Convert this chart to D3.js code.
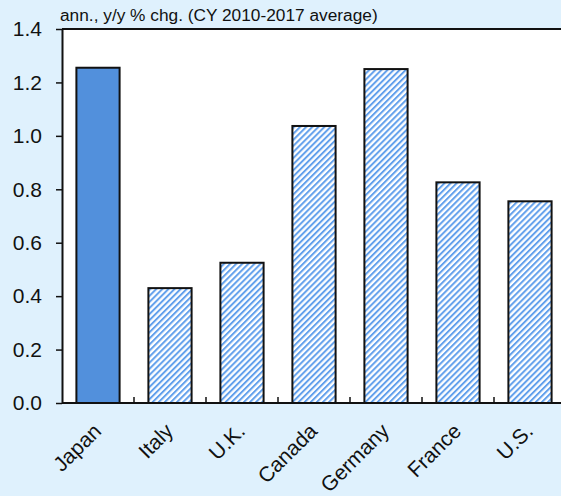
<!DOCTYPE html>
<html>
<head>
<meta charset=utf-8>
<style>
body {margin: 0; background: #dff1fd;}
svg {display: block; font-family: 'Liberation Sans', Arial, sans-serif;}
</style>
</head>
<body>
<svg id=chart width=561 height=496></svg>
<script src='https://cdn.jsdelivr.net/npm/d3@7/dist/d3.min.js'></script>
<script>
//data
var countries = ['Japan', 'Italy', 'U.K.', 'Canada', 'Germany', 'France', 'U.S.'];
var growth = [1.255, 0.43, 0.525, 1.037, 1.25, 0.826, 0.755];
var yTicks = [0, 0.2, 0.4, 0.6, 0.8, 1.0, 1.2, 1.4];
var title = 'ann., y/y % chg. (CY 2010-2017 average)';

var svg = d3.select('#chart');
var plot = {left: 62, right: 566, top: 29, bottom: 403};

var x = d3.scaleBand().domain(countries).range([plot.left, plot.right]).paddingInner(0.4).paddingOuter(0.2);
var y = d3.scaleLinear().domain([0, 1.4]).range([plot.bottom, plot.top]);

//hatch pattern for the non-japan bars
var pat = svg.append('defs').append('pattern')
    .attr('id', 'hatch')
    .attr('patternUnits', 'userSpaceOnUse')
    .attr('width', 4.3).attr('height', 4.3)
    .attr('patternTransform', 'rotate(45)');
pat.append('rect').attr('width', 4.3).attr('height', 4.3).attr('fill', '#ffffff');
pat.append('rect').attr('width', 2).attr('height', 4.3).attr('fill', '#62a0ec');

//plot area
svg.append('rect')
    .attr('x', plot.left).attr('y', plot.top)
    .attr('width', plot.right - plot.left).attr('height', plot.bottom - plot.top)
    .attr('fill', '#ffffff');

//bars
svg.selectAll('.bar')
  .data(countries)
  .enter().append('rect')
    .attr('class', 'bar')
    .attr('x', function(d) { return x(d); })
    .attr('y', function(d, i) { return y(growth[i]); })
    .attr('width', x.bandwidth())
    .attr('height', function(d, i) { return plot.bottom - y(growth[i]); })
    .attr('fill', function(d, i) { return i === 0 ? '#5290dc' : 'url(#hatch)'; })
    .attr('stroke', '#111')
    .attr('stroke-width', 2);

//top border
svg.append('line')
    .attr('x1', plot.left).attr('x2', plot.right)
    .attr('y1', plot.top).attr('y2', plot.top)
    .attr('stroke', '#111').attr('stroke-width', 2);

//y axis
var yAxis = svg.append('g')
    .attr('transform', 'translate(' + plot.left + ',0)')
    .call(d3.axisLeft(y).tickValues(yTicks).tickFormat(d3.format('.1f')).tickSize(6).tickSizeOuter(0).tickPadding(14));
yAxis.select('.domain').attr('stroke', '#111').attr('stroke-width', 2);
yAxis.selectAll('.tick line').attr('stroke', '#111').attr('stroke-width', 1.5);
yAxis.selectAll('.tick text')
    .attr('font-size', 21)
    .attr('font-family', "'Liberation Sans', Arial, sans-serif")
    .attr('fill', '#111');

//x axis: ticks point up, between the bars
var xAxis = svg.append('g')
    .attr('transform', 'translate(0,' + plot.bottom + ')');
xAxis.append('line')
    .attr('x1', plot.left).attr('x2', plot.right)
    .attr('stroke', '#111').attr('stroke-width', 2);
xAxis.selectAll('.sep')
  .data(countries.slice(1))
  .enter().append('line')
    .attr('class', 'sep')
    .attr('x1', function(d) { return x(d) - x.step() * x.paddingInner() / 2; })
    .attr('x2', function(d) { return x(d) - x.step() * x.paddingInner() / 2; })
    .attr('y1', 0).attr('y2', -6)
    .attr('stroke', '#111').attr('stroke-width', 1.5);
xAxis.selectAll('.lbl')
  .data(countries)
  .enter().append('text')
    .attr('class', 'lbl')
    .attr('text-anchor', 'end')
    .attr('font-size', 21)
    .attr('fill', '#111')
    .attr('transform', function(d) {
      return 'translate(' + (x(d) + x.bandwidth() / 2 - 6) + ',19) rotate(-45)';
    })
    .attr('dy', '.7em')
    .text(function(d) { return d; });

//unit title
svg.append('text')
    .attr('x', 60).attr('y', 21)
    .attr('font-size', 17.3)
    .attr('fill', '#111')
    .text(title);
</script>
</body>
</html>
